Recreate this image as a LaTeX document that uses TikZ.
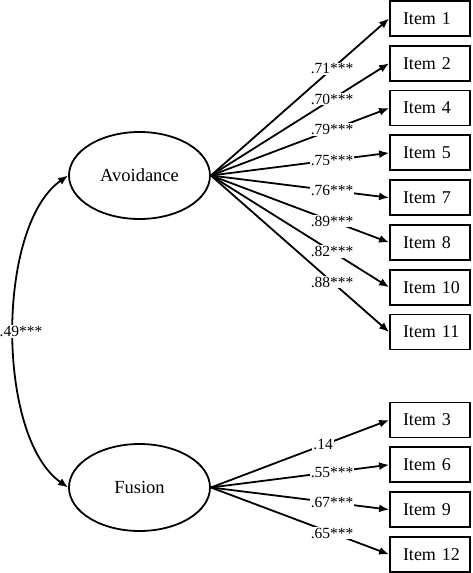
\documentclass[tikz,border=0pt]{standalone}
\usepackage{fontspec}
\setmainfont{Liberation Serif}
\usetikzlibrary{shapes.geometric,arrows.meta}
\tikzset{
  latent/.style={draw,ellipse,line width=1.8pt,minimum width=141pt,minimum height=87pt,inner sep=0pt,font=\fontsize{18.5}{20}\selectfont},
  item/.style={draw,rectangle,line width=1.8pt,minimum height=35pt,text width=60pt,inner xsep=10pt,inner ysep=0pt,align=left,font=\fontsize{18}{20}\selectfont},
  load/.style={-{Latex[length=10pt,width=8pt]},line width=1.8pt},
  coef/.style={fill=white,inner sep=1pt,font=\fontsize{15.5}{17}\selectfont}
}
\begin{document}
\begin{tikzpicture}[x=1pt,y=1pt]
   \useasboundingbox (0,0) rectangle (472,573);
   \node[latent] (avoid) at (139.5,397.5) {Avoidance};
   \node[latent] (fusion) at (139.5,85.5) {Fusion};
   % avoidance items
   \foreach \num/\k/\lam in {1/0/.71***,2/1/.70***,4/2/.79***,5/3/.75***,7/4/.76***,8/5/.89***,10/6/.82***,11/7/.88***}{
      \node[item] (item\num) at (430,554.5-44.8*\k) {\hspace*{3pt}Item \num};
      \draw[load] (avoid.east) -- node[coef,pos=.68] {\lam} (item\num.west);
   }
   % fusion items
   \foreach \num/\k/\lam/\p in {3/0/.14/.63,6/1/.55***/.68,9/2/.67***/.68,12/3/.65***/.68}{
      \node[item] (item\num) at (430,153-44.8*\k) {\hspace*{3pt}Item \num};
      \draw[load] (fusion.east) -- node[coef,pos=\p] {\lam} (item\num.west);
   }
   \draw[{Latex[length=10pt,width=8pt]}-{Latex[length=10pt,width=8pt]},line width=1.8pt] (avoid.west) .. controls +(215:88) and +(145:88) .. (fusion.west) node[coef,pos=.5,xshift=7pt] {.49***};
\end{tikzpicture}
\end{document}
